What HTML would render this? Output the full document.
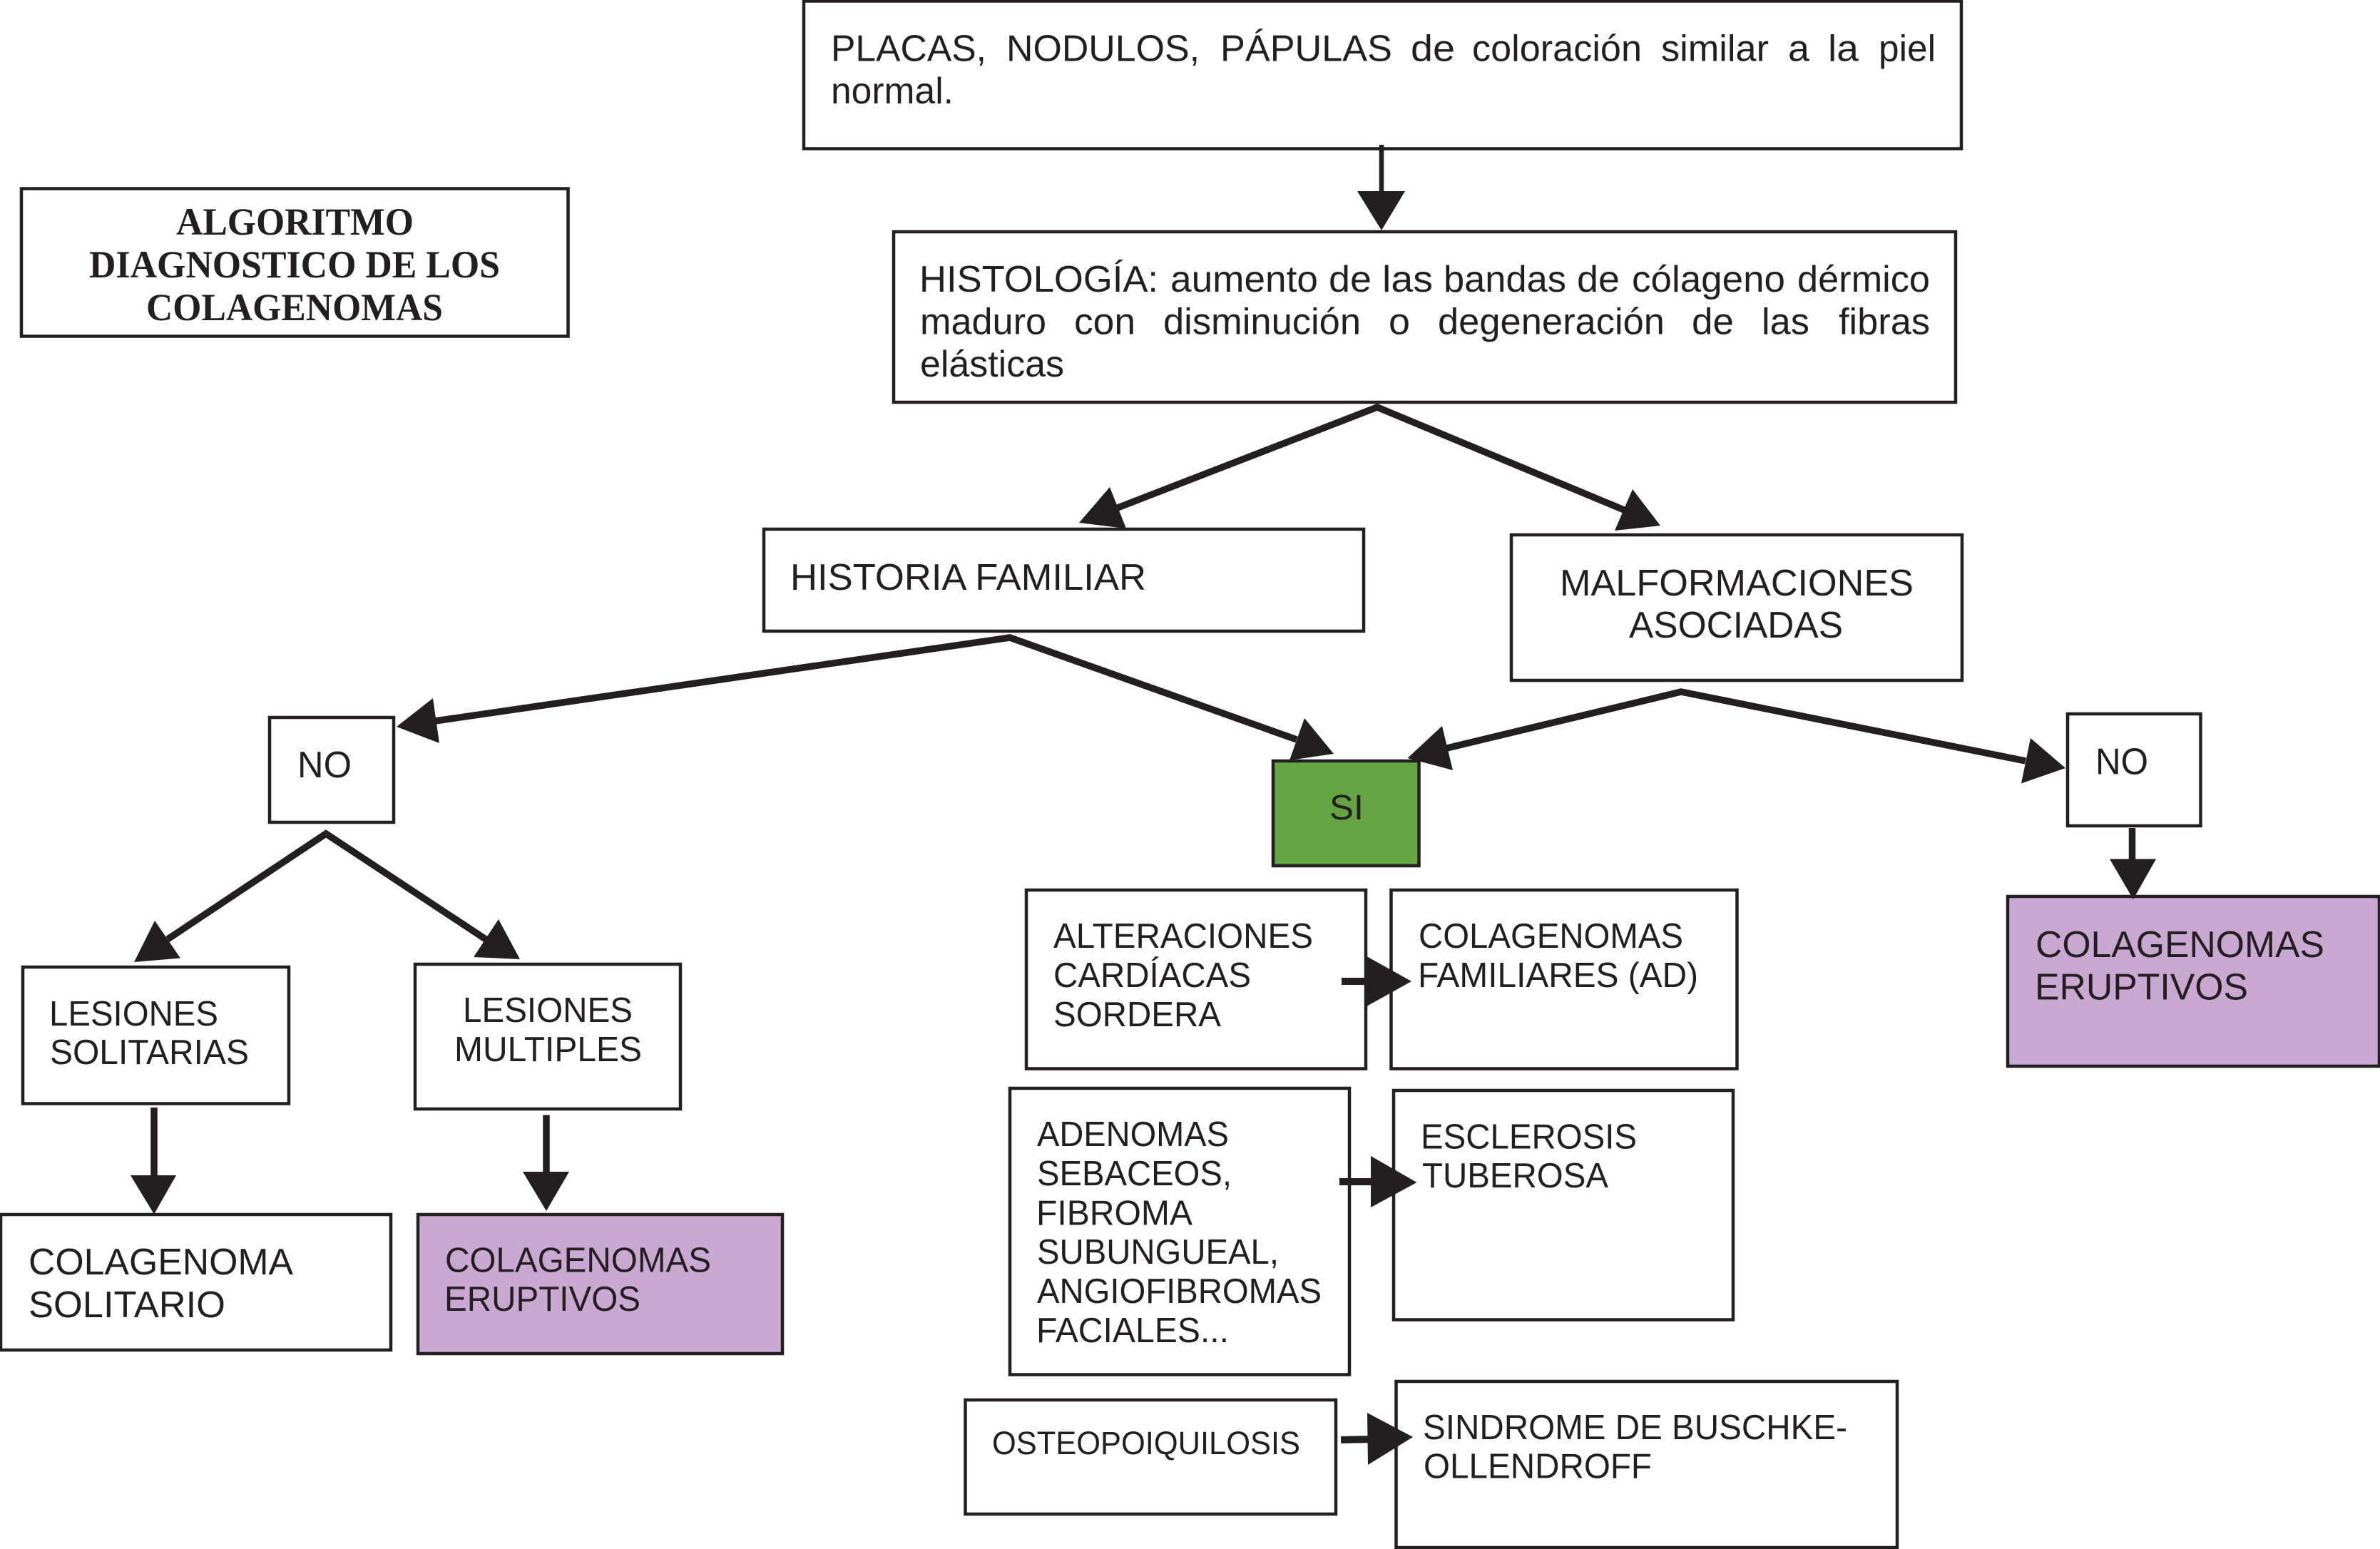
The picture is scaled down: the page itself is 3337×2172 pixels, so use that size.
<!DOCTYPE html>
<html lang="es"><head><meta charset="utf-8"><title>Algoritmo diagnóstico de los colagenomas</title>
<style>html,body{margin:0;padding:0;background:#fff}svg{display:block}
text{font-family:"Liberation Sans",Arial,sans-serif;fill:#231f20;font-size:52px}
.m{font-size:49px}.s{font-size:45px}
.t{font-family:"Liberation Serif","Times New Roman",serif;font-weight:bold;font-size:54px}
rect{fill:#fff;stroke:#231f20;stroke-width:4.5}
.p{fill:#c9a9d1}.g{fill:#65a443}
line,polyline{stroke:#231f20;stroke-width:9.5;fill:none}
polygon{fill:#231f20}</style></head><body>
<svg xmlns="http://www.w3.org/2000/svg" width="3337" height="2172" viewBox="0 0 3337 2172">
<rect x="30" y="264.5" width="766.5" height="207"/>
<rect x="1127" y="1.5" width="1623" height="207"/>
<rect x="1253" y="325" width="1489" height="239"/>
<rect x="1071" y="742" width="841" height="143"/>
<rect x="2119" y="750" width="632" height="204"/>
<rect x="378" y="1006" width="174" height="147"/>
<rect class="g" x="1785" y="1067" width="204.5" height="147"/>
<rect x="2899" y="1001" width="186.5" height="157"/>
<rect class="p" x="2815" y="1257" width="521" height="238"/>
<rect x="32" y="1356" width="373" height="191.5"/>
<rect x="582" y="1352" width="372" height="203"/>
<rect x="1" y="1703" width="547" height="190"/>
<rect class="p" x="586" y="1703" width="511" height="195"/>
<rect x="1439" y="1248" width="476" height="250.5"/>
<rect x="1950.5" y="1248" width="485" height="250.5"/>
<rect x="1416" y="1526" width="476" height="401.5"/>
<rect x="1954" y="1529" width="476" height="321.5"/>
<rect x="1353.5" y="1963" width="519.5" height="160"/>
<rect x="1957.5" y="1937" width="702.5" height="233"/>

<line x1="1937" y1="203" x2="1937" y2="275" style="stroke-width:6.5"/>
<polygon points="1903,268 1970,268 1937,323"/>
<polyline points="1567,712 1931,571 2277,715"/>
<polygon points="1556,683 1513,733 1579,741"/>
<polygon points="2289,686 2264,744 2328,737"/>
<polyline points="610,1011 1416,894 1818,1037"/>
<polygon points="556,1019 607,979 616,1042"/>
<polygon points="1829,1007 1808,1066 1870,1057"/>
<polyline points="2029,1049 2357,970 2840,1067"/>
<polygon points="1973.5,1063 2022,1018 2037,1080"/>
<polygon points="2847,1035 2834,1098.5 2896,1077"/>
<polyline points="235,1317 457,1169 681,1317"/>
<polygon points="217,1291 188,1349 253,1343.5"/>
<polygon points="699,1289 664,1342 729,1345"/>
<line x1="216" y1="1553" x2="216" y2="1655"/>
<polygon points="183,1648 247,1648 216,1702.5"/>
<line x1="766" y1="1563.5" x2="766" y2="1650"/>
<polygon points="733,1643 798,1643 766,1698"/>
<line x1="2989.5" y1="1161" x2="2989.5" y2="1210"/>
<polygon points="2958,1204.5 3023,1204.5 2991,1261"/>
<line x1="1881" y1="1376" x2="1925" y2="1376" style="stroke-width:10"/>
<polygon points="1914.5,1340 1914.5,1412 1979,1376"/>
<line x1="1878" y1="1657" x2="1930" y2="1657" style="stroke-width:10"/>
<polygon points="1922,1621 1922,1693 1986.5,1658"/>
<line x1="1880" y1="2019" x2="1925" y2="2018" style="stroke-width:10"/>
<polygon points="1917,1981 1918,2054 1981,2015"/>

<text class="t" x="247" y="329" textLength="333" lengthAdjust="spacingAndGlyphs">ALGORITMO</text>
<text class="t" x="125" y="389" textLength="576" lengthAdjust="spacingAndGlyphs">DIAGNOSTICO DE LOS</text>
<text class="t" x="205" y="449" textLength="416" lengthAdjust="spacingAndGlyphs">COLAGENOMAS</text>

<g transform="translate(2 0)">
<text x="1163" y="85.5" textLength="218" lengthAdjust="spacingAndGlyphs">PLACAS,</text>
<text x="1409" y="85.5" textLength="271" lengthAdjust="spacingAndGlyphs">NODULOS,</text>
<text x="1709" y="85.5" textLength="241" lengthAdjust="spacingAndGlyphs">PÁPULAS</text>
<text x="1976" y="85.5" textLength="62" lengthAdjust="spacingAndGlyphs">de</text>
<text x="2062" y="85.5" textLength="238" lengthAdjust="spacingAndGlyphs">coloración</text>
<text x="2327" y="85.5" textLength="151" lengthAdjust="spacingAndGlyphs">similar</text>
<text x="2505" y="85.5" textLength="30" lengthAdjust="spacingAndGlyphs">a</text>
<text x="2561" y="85.5" textLength="43" lengthAdjust="spacingAndGlyphs">la</text>
<text x="2632" y="85.5" textLength="80" lengthAdjust="spacingAndGlyphs">piel</text>
<text x="1163" y="145" textLength="172" lengthAdjust="spacingAndGlyphs">normal.</text>

<text x="1287" y="409" textLength="335" lengthAdjust="spacingAndGlyphs">HISTOLOGÍA:</text>
<text x="1639" y="409" textLength="207" lengthAdjust="spacingAndGlyphs">aumento</text>
<text x="1861" y="409" textLength="60" lengthAdjust="spacingAndGlyphs">de</text>
<text x="1936" y="409" textLength="71" lengthAdjust="spacingAndGlyphs">las</text>
<text x="2022" y="409" textLength="172" lengthAdjust="spacingAndGlyphs">bandas</text>
<text x="2209" y="409" textLength="60" lengthAdjust="spacingAndGlyphs">de</text>
<text x="2286" y="409" textLength="215" lengthAdjust="spacingAndGlyphs">cólageno</text>
<text x="2518" y="409" textLength="186" lengthAdjust="spacingAndGlyphs">dérmico</text>
<text x="1288" y="468.5" textLength="177" lengthAdjust="spacingAndGlyphs">maduro</text>
<text x="1504" y="468.5" textLength="86" lengthAdjust="spacingAndGlyphs">con</text>
<text x="1629" y="468.5" textLength="277" lengthAdjust="spacingAndGlyphs">disminución</text>
<text x="1945" y="468.5" textLength="30" lengthAdjust="spacingAndGlyphs">o</text>
<text x="2014" y="468.5" textLength="318" lengthAdjust="spacingAndGlyphs">degeneración</text>
<text x="2370" y="468.5" textLength="59" lengthAdjust="spacingAndGlyphs">de</text>
<text x="2468" y="468.5" textLength="67" lengthAdjust="spacingAndGlyphs">las</text>
<text x="2576" y="468.5" textLength="128" lengthAdjust="spacingAndGlyphs">fibras</text>
<text x="1288" y="528" textLength="202" lengthAdjust="spacingAndGlyphs">elásticas</text>

<text x="1106" y="827" textLength="499" lengthAdjust="spacingAndGlyphs">HISTORIA FAMILIAR</text>
<text x="2185" y="835" textLength="496" lengthAdjust="spacingAndGlyphs">MALFORMACIONES</text>
<text x="2282" y="894" textLength="300" lengthAdjust="spacingAndGlyphs">ASOCIADAS</text>
<text x="415" y="1090" textLength="76" lengthAdjust="spacingAndGlyphs">NO</text>
<text x="2936" y="1085.5" textLength="74" lengthAdjust="spacingAndGlyphs">NO</text>
<text class="m" x="1862" y="1149" textLength="48" lengthAdjust="spacingAndGlyphs">SI</text>

<text x="2852" y="1342" textLength="405" lengthAdjust="spacingAndGlyphs">COLAGENOMAS</text>
<text x="2851" y="1401.5" textLength="299" lengthAdjust="spacingAndGlyphs">ERUPTIVOS</text>
<text x="38" y="1787" textLength="371" lengthAdjust="spacingAndGlyphs">COLAGENOMA</text>
<text x="38" y="1847" textLength="276" lengthAdjust="spacingAndGlyphs">SOLITARIO</text>

<text class="m" x="67" y="1438" textLength="237" lengthAdjust="spacingAndGlyphs">LESIONES</text>
<text class="m" x="68" y="1492" textLength="279" lengthAdjust="spacingAndGlyphs">SOLITARIAS</text>
<text class="m" x="647" y="1433" textLength="238" lengthAdjust="spacingAndGlyphs">LESIONES</text>
<text class="m" x="635" y="1488" textLength="263" lengthAdjust="spacingAndGlyphs">MULTIPLES</text>
<text class="m" x="622" y="1783.5" textLength="373" lengthAdjust="spacingAndGlyphs">COLAGENOMAS</text>
<text class="m" x="621" y="1838" textLength="275" lengthAdjust="spacingAndGlyphs">ERUPTIVOS</text>

<text class="m" x="1475" y="1329" textLength="364" lengthAdjust="spacingAndGlyphs">ALTERACIONES</text>
<text class="m" x="1475" y="1384" textLength="277" lengthAdjust="spacingAndGlyphs">CARDÍACAS</text>
<text class="m" x="1475" y="1439" textLength="235" lengthAdjust="spacingAndGlyphs">SORDERA</text>
<text class="m" x="1987" y="1329" textLength="371" lengthAdjust="spacingAndGlyphs">COLAGENOMAS</text>
<text class="m" x="1986" y="1384" textLength="393" lengthAdjust="spacingAndGlyphs">FAMILIARES (AD)</text>

<text class="m" x="1452" y="1607" textLength="269" lengthAdjust="spacingAndGlyphs">ADENOMAS</text>
<text class="m" x="1452" y="1662" textLength="273" lengthAdjust="spacingAndGlyphs">SEBACEOS,</text>
<text class="m" x="1451" y="1717.5" textLength="219" lengthAdjust="spacingAndGlyphs">FIBROMA</text>
<text class="m" x="1452" y="1772" textLength="339" lengthAdjust="spacingAndGlyphs">SUBUNGUEAL,</text>
<text class="m" x="1452" y="1827" textLength="399" lengthAdjust="spacingAndGlyphs">ANGIOFIBROMAS</text>
<text class="m" x="1451" y="1882" textLength="270" lengthAdjust="spacingAndGlyphs">FACIALES...</text>
<text class="m" x="1990" y="1610.5" textLength="303" lengthAdjust="spacingAndGlyphs">ESCLEROSIS</text>
<text class="m" x="1992" y="1665" textLength="261" lengthAdjust="spacingAndGlyphs">TUBEROSA</text>

<text class="s" x="1389" y="2039" textLength="432" lengthAdjust="spacingAndGlyphs">OSTEOPOIQUILOSIS</text>
<text class="m" x="1993" y="2018" textLength="595" lengthAdjust="spacingAndGlyphs">SINDROME DE BUSCHKE-</text>
<text class="m" x="1994" y="2072.5" textLength="320" lengthAdjust="spacingAndGlyphs">OLLENDROFF</text>
</g>
</svg>
</body></html>
